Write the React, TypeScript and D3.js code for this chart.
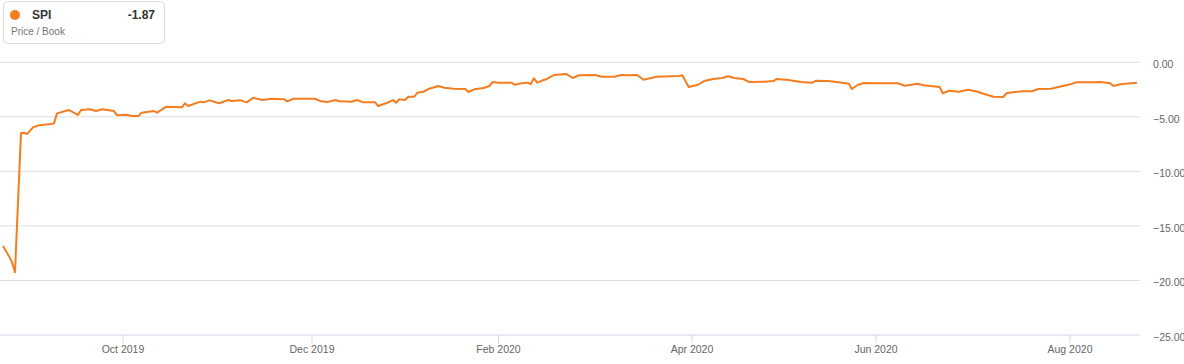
import React from 'react';
import * as d3 from 'd3';

// SPI price / book, one year of readings
const dates = [
  '2019-08-22', '2019-08-24', '2019-08-25', '2019-08-26', '2019-08-28', '2019-08-29', '2019-08-30',
  '2019-09-01', '2019-09-03', '2019-09-07', '2019-09-08', '2019-09-09', '2019-09-13', '2019-09-16',
  '2019-09-17', '2019-09-20', '2019-09-22', '2019-09-24', '2019-09-28', '2019-09-29',
  '2019-10-02', '2019-10-04', '2019-10-06', '2019-10-07', '2019-10-11', '2019-10-12', '2019-10-15',
  '2019-10-20', '2019-10-21', '2019-10-22', '2019-10-26', '2019-10-27', '2019-10-29',
  '2019-11-01', '2019-11-04', '2019-11-05', '2019-11-08', '2019-11-10', '2019-11-12', '2019-11-15',
  '2019-11-18', '2019-11-22', '2019-11-23', '2019-11-25',
  '2019-12-02', '2019-12-04', '2019-12-06', '2019-12-09', '2019-12-10', '2019-12-14', '2019-12-16',
  '2019-12-18', '2019-12-22', '2019-12-23', '2019-12-26', '2019-12-28', '2019-12-29', '2019-12-30',
  '2020-01-01', '2020-01-02', '2020-01-04', '2020-01-05', '2020-01-07', '2020-01-09', '2020-01-12',
  '2020-01-14', '2020-01-17', '2020-01-21', '2020-01-22', '2020-01-24', '2020-01-27', '2020-01-29',
  '2020-01-30',
  '2020-02-01', '2020-02-05', '2020-02-06', '2020-02-08', '2020-02-10', '2020-02-11', '2020-02-12',
  '2020-02-13', '2020-02-15', '2020-02-16', '2020-02-18', '2020-02-19', '2020-02-22', '2020-02-24',
  '2020-02-26',
  '2020-03-02', '2020-03-04', '2020-03-08', '2020-03-10', '2020-03-12', '2020-03-15', '2020-03-17',
  '2020-03-21', '2020-03-28', '2020-03-29', '2020-03-31',
  '2020-04-03', '2020-04-05', '2020-04-08', '2020-04-11', '2020-04-13', '2020-04-15', '2020-04-18',
  '2020-04-20', '2020-04-25', '2020-04-28', '2020-04-29',
  '2020-05-03', '2020-05-07', '2020-05-11', '2020-05-12', '2020-05-16', '2020-05-19', '2020-05-23',
  '2020-05-24', '2020-05-26', '2020-05-28',
  '2020-06-02', '2020-06-08', '2020-06-10', '2020-06-13', '2020-06-14', '2020-06-16', '2020-06-21',
  '2020-06-22', '2020-06-24', '2020-06-27', '2020-06-30',
  '2020-07-03', '2020-07-05', '2020-07-08', '2020-07-11', '2020-07-12', '2020-07-14', '2020-07-17',
  '2020-07-20', '2020-07-22', '2020-07-26', '2020-07-30',
  '2020-08-01', '2020-08-03', '2020-08-08', '2020-08-10', '2020-08-13', '2020-08-14', '2020-08-16',
  '2020-08-21',
];

const pbValues = [
  -16.83, -17.77, -18.32, -19.24, -6.49, -6.46, -6.58,
  -5.96, -5.78, -5.66, -5.6, -4.68, -4.38, -4.83,
  -4.38, -4.31, -4.47, -4.31, -4.47, -4.86,
  -4.81, -4.93, -4.93, -4.62, -4.47, -4.62, -4.07,
  -4.13, -3.76, -4.01, -3.61, -3.67, -3.49,
  -3.76, -3.46, -3.55, -3.49, -3.67, -3.25, -3.46,
  -3.34, -3.39, -3.58, -3.34,
  -3.34, -3.58, -3.64, -3.46, -3.58, -3.61, -3.46,
  -3.67, -3.67, -4.01, -3.71, -3.46, -3.71, -3.39,
  -3.46, -3.16, -3.16, -2.79, -2.7, -2.42, -2.17,
  -2.33, -2.42, -2.45, -2.72, -2.48, -2.36, -2.17,
  -1.81,
  -1.87, -1.87, -2.06, -1.93, -1.87, -1.99, -1.47,
  -1.87, -1.62, -1.53, -1.19, -1.14, -1.07, -1.44,
  -1.19,
  -1.17, -1.32, -1.32, -1.17, -1.19, -1.17, -1.6,
  -1.32, -1.26, -1.19, -2.27,
  -2.06, -1.72, -1.53, -1.44, -1.28, -1.44, -1.53,
  -1.81, -1.78, -1.72, -1.53,
  -1.62, -1.81, -1.87, -1.69, -1.72, -1.81, -1.96,
  -2.45, -2.06, -1.9,
  -1.93, -1.93, -2.15, -2.02, -1.96, -2.11, -2.27,
  -2.84, -2.61, -2.7, -2.51,
  -2.7, -2.91, -3.16, -3.18, -2.84, -2.75, -2.66,
  -2.66, -2.45, -2.42, -2.15,
  -2.02, -1.83, -1.83, -1.81, -1.93, -2.17, -2.02,
  -1.87,
];

const tickDates = ['2019-10-01', '2019-12-01', '2020-02-01', '2020-04-01', '2020-06-01', '2020-08-01'];
const yTicks = [0, -5, -10, -15, -20, -25];

const seriesName = 'SPI';
const seriesLabel = 'Price / Book';
const lastValue = -1.87;

const W = 1184;
const H = 364;
const plotLeft = 0;
const plotRight = 1140;
const plotTop = 62.3;
const plotBottom = 335;
// pixel stops for first point, each month tick, last point (axis is not evenly spaced by calendar)
const xStops = [3, 123, 312, 498.5, 692, 876, 1070, 1137];

const ORANGE = '#f47d20';
const FONT = 'Arial, "Liberation Sans", Helvetica, sans-serif';

const parse = d3.timeParse('%Y-%m-%d');

export default function App() {
  const data = dates.map((d, i) => ({ date: parse(d) as Date, value: pbValues[i] }));
  const ticks = tickDates.map((d) => parse(d) as Date);
  const [first, last] = d3.extent(data, (d) => d.date) as [Date, Date];

  const x = d3.scaleTime().domain([first, ...ticks, last]).range(xStops);
  const y = d3.scaleLinear().domain([-25, 0]).range([plotBottom, plotTop]);

  const line = d3
    .line<{ date: Date; value: number }>()
    .x((d) => x(d.date))
    .y((d) => y(d.value));

  const fmtX = d3.timeFormat('%b %Y');
  const fmtY = d3.format('.2f');

  return (
    <svg
      width={W}
      height={H}
      style={{ position: 'absolute', left: 0, top: 0, display: 'block', background: '#fff' }}
      fontFamily={FONT}
    >
      {/* grid */}
      {yTicks.map((t) =>
        t === -25 ? null : (
          <line key={t} x1={plotLeft} x2={plotRight} y1={y(t)} y2={y(t)} stroke="#dedede" strokeWidth={1} />
        )
      )}
      <line x1={plotLeft} x2={plotRight} y1={plotBottom} y2={plotBottom} stroke="#ccd6eb" strokeWidth={1} />

      {/* y labels on right */}
      {yTicks.map((t) => (
        <text key={t} x={1153} y={y(t) + 6} fontSize={10.5} fill="#666">
          {fmtY(t)}
        </text>
      ))}

      {/* x ticks */}
      {ticks.map((t) => (
        <g key={+t} transform={`translate(${x(t)},0)`}>
          <line y1={plotBottom} y2={plotBottom + 8} stroke="#ccd6eb" />
          <text y={353} textAnchor="middle" fontSize={10.5} fill="#666">
            {fmtX(t)}
          </text>
        </g>
      ))}

      <path d={line(data) ?? ''} fill="none" stroke={ORANGE} strokeWidth={2} strokeLinejoin="round" />

      {/* legend box */}
      <g>
        <rect x={3.5} y={1.5} width={161} height={42} rx={4} fill="#fff" stroke="#dcdcdc" />
        <circle cx={15} cy={15} r={5} fill={ORANGE} />
        <text x={32} y={19} fontSize={12} fontWeight="bold" fill="#333">
          {seriesName}
        </text>
        <text x={155} y={19} fontSize={12} fontWeight="bold" fill="#333" textAnchor="end">
          {lastValue.toFixed(2)}
        </text>
        <text x={11} y={35} fontSize={10} fill="#777">
          {seriesLabel}
        </text>
      </g>
    </svg>
  );
}
